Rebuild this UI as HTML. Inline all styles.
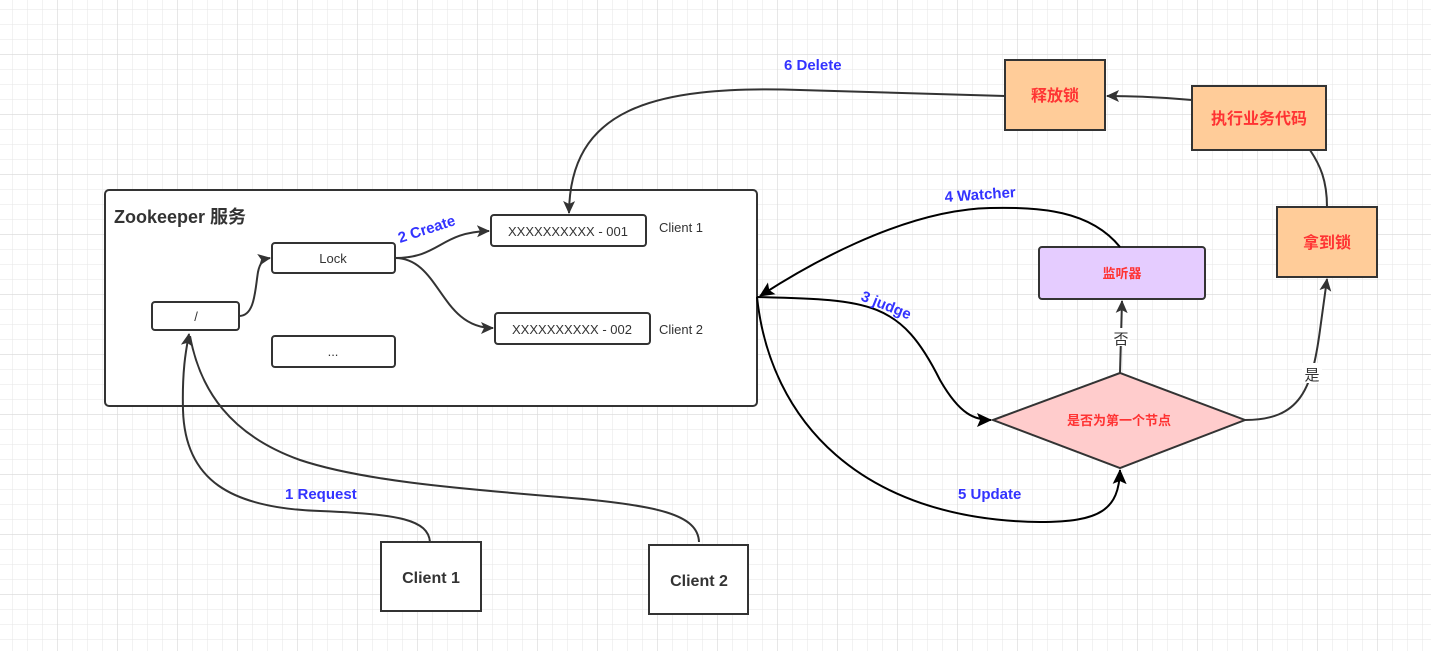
<!DOCTYPE html>
<html><head><meta charset="utf-8"><style>
html,body{margin:0;padding:0;background:#fff;}
svg{display:block;font-family:"Liberation Sans","Noto Sans CJK SC",sans-serif;}
</style></head><body>
<svg width="1431" height="651" viewBox="0 0 1431 651" xmlns="http://www.w3.org/2000/svg">
<defs>
<pattern id="g" x="12" y="9" width="15" height="15" patternUnits="userSpaceOnUse"><path d="M0 0H15M0 0V15" stroke="#e9e9e9" stroke-width="1.2" fill="none"/></pattern>
<pattern id="G" x="57" y="54" width="60" height="60" patternUnits="userSpaceOnUse"><path d="M0 0H60M0 0V60" stroke="#d9d9d9" stroke-width="1.2" fill="none"/></pattern>
<marker id="a" markerWidth="14" markerHeight="14" refX="12" refY="6" orient="auto" markerUnits="userSpaceOnUse"><path d="M0,0 L13,6 L0,12 L3,6 Z" fill="#333"/></marker>
<marker id="b" markerWidth="16" markerHeight="14" refX="14" refY="7" orient="auto" markerUnits="userSpaceOnUse"><path d="M0,0 L15,7 L0,14 L3,7 Z" fill="#000"/></marker>
</defs>
<rect width="1431" height="651" fill="#fff"/>
<rect width="1431" height="651" fill="url(#g)"/>
<rect width="1431" height="651" fill="url(#G)"/>

<g fill="#fff" stroke="#333" stroke-width="2">
<rect x="105" y="190" width="652" height="216" rx="4"/>
<rect x="152" y="302" width="87" height="28" rx="3"/>
<rect x="272" y="243" width="123" height="30" rx="3"/>
<rect x="272" y="336" width="123" height="31" rx="3"/>
<rect x="491" y="215" width="155" height="31" rx="3"/>
<rect x="495" y="313" width="155" height="31" rx="3"/>
<rect x="381" y="542" width="100" height="69"/>
<rect x="649" y="545" width="99" height="69"/>
</g>
<g fill="#ffcc99" stroke="#333" stroke-width="2">
<rect x="1005" y="60" width="100" height="70"/>
<rect x="1192" y="86" width="134" height="64"/>
<rect x="1277" y="207" width="100" height="70"/>
</g>
<rect x="1039" y="247" width="166" height="52" rx="3" fill="#e5ccff" stroke="#333" stroke-width="2"/>
<polygon points="993,420 1120,373 1245,420 1120,468" fill="#ffcccc" stroke="#333" stroke-width="2"/>

<g fill="none" stroke="#333" stroke-width="2">
<path d="M430,542 C428,520 400,514 320,511 C230,508 185,480 183,410 C182,370 186,350 189,334" marker-end="url(#a)"/>
<path d="M699,542 C698,515 660,505 560,497 C450,488 360,480 300,460 C230,435 200,390 190,336"/>
<path d="M239,316 C255,316 255,290 258,272 C260,262 264,259 270,258" marker-end="url(#a)"/>
<path d="M395,258 C440,258 440,232 489,231" marker-end="url(#a)"/>
<path d="M395,258 C440,258 440,328 493,328" marker-end="url(#a)"/>
<path d="M1005,96 L800,90 C650,85 570,110 569,213" marker-end="url(#a)"/>
<path d="M1192,100 C1160,97 1130,96 1107,96" marker-end="url(#a)"/>
<path d="M1327,207 C1327,180 1320,165 1310,150"/>
<path d="M1245,420 C1300,420 1312,390 1320,330 L1327,279" marker-end="url(#a)"/>
<path d="M1120,373 L1122,301" marker-end="url(#a)"/>
</g>
<g fill="none" stroke="#000" stroke-width="2">
<path d="M1120,247 C1090,210 1040,207 990,208 C900,210 800,270 760,296" marker-end="url(#b)"/>
<path d="M757,297 C870,300 900,300 940,380 C960,415 975,420 991,420" marker-end="url(#b)"/>
<path d="M757,297 C770,420 860,520 1040,522 C1100,522 1119,510 1120,470" marker-end="url(#b)"/>
</g>
<rect x="1112" y="328" width="18" height="18" fill="#fff"/>
<rect x="1302" y="363" width="20" height="20" fill="#fff"/>

<g fill="#333" font-size="13" text-anchor="middle">
<text x="196" y="321">/</text>
<text x="333" y="263">Lock</text>
<text x="333" y="356">...</text>
<text x="568" y="236">XXXXXXXXXX - 001</text>
<text x="572" y="334">XXXXXXXXXX - 002</text>
<text x="681" y="232">Client 1</text>
<text x="681" y="334">Client 2</text>
</g>
<text x="114" y="223" font-size="18" font-weight="bold" fill="#333">Zookeeper 服务</text>
<text x="431" y="583" font-size="16" font-weight="bold" fill="#333" text-anchor="middle">Client 1</text>
<text x="699" y="586" font-size="16" font-weight="bold" fill="#333" text-anchor="middle">Client 2</text>
<g fill="#ff3333" font-weight="bold" text-anchor="middle">
<text x="1055" y="101" font-size="16">释放锁</text>
<text x="1259" y="124" font-size="16">执行业务代码</text>
<text x="1327" y="248" font-size="16">拿到锁</text>
<text x="1122" y="278" font-size="13">监听器</text>
<text x="1119" y="425" font-size="13">是否为第一个节点</text>
</g>
<text x="1121" y="344" font-size="15" fill="#333" text-anchor="middle">否</text>
<text x="1312" y="380" font-size="15" fill="#333" text-anchor="middle">是</text>
<g fill="#3333ff" font-weight="bold" font-size="15">
<text x="784" y="70">6  Delete</text>
<text x="945" y="202" transform="rotate(-4 945 202)">4 Watcher</text>
<text x="958" y="499">5  Update</text>
<text x="285" y="499">1 Request</text>
<text x="400" y="243" transform="rotate(-18 400 243)">2 Create</text>
<text x="860" y="300" transform="rotate(22 860 300)">3 judge</text>
</g>
</svg>
</body></html>
